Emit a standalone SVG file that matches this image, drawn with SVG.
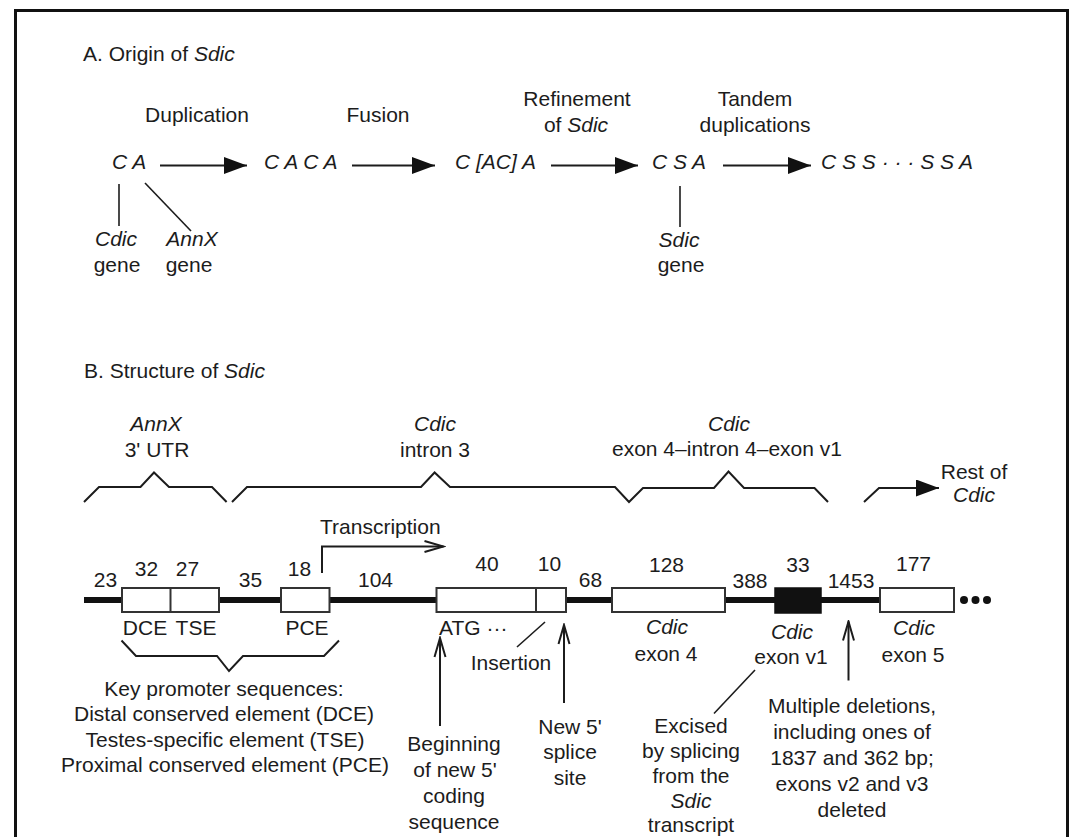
<svg xmlns="http://www.w3.org/2000/svg" width="1074" height="837" viewBox="0 0 1074 837">
  <style>
    text { font-family: "Liberation Sans", Arial, sans-serif; font-size: 21px; fill: #1c1c1c; }
    .it { font-style: italic; }
    .mid { text-anchor: middle; }
    .ln { stroke: #1c1c1c; stroke-width: 2; fill: none; }
    .thin { stroke: #1c1c1c; stroke-width: 1.6; fill: none; }
    .box { fill: #ffffff; stroke: #333333; stroke-width: 2; }
    .dna { stroke: #111111; stroke-width: 6; }
  </style>
  <defs>
    <marker id="solid" markerUnits="userSpaceOnUse" markerWidth="23" markerHeight="17" viewBox="0 0 23 17" refX="23" refY="8.5" orient="auto">
      <path d="M0,0 L23,8.5 L0,17 Z" fill="#111111"/>
    </marker>
    <marker id="open" markerUnits="userSpaceOnUse" markerWidth="22" markerHeight="14" viewBox="0 0 22 14" refX="20" refY="7" orient="auto">
      <path d="M1,1.5 L20,7 L1,12.5" fill="none" stroke="#1c1c1c" stroke-width="2"/>
    </marker>
  </defs>

  <rect width="1074" height="837" fill="#ffffff"/>
  <!-- frame (open at the bottom edge) -->
  <path d="M15.5,845 L15.5,10.5 L1067.5,10.5 L1067.5,845" fill="none" stroke="#111111" stroke-width="3"/>

  <!-- Panel A -->
  <g id="title-a"><text x="83" y="61">A. Origin of <tspan class="it">Sdic</tspan></text></g>

  <g id="step-duplication"><text class="mid" x="197" y="122">Duplication</text></g>
  <g id="step-fusion"><text class="mid" x="378" y="122">Fusion</text></g>
  <g id="step-refinement">
    <text class="mid" x="577" y="106">Refinement</text>
    <text class="mid" x="576" y="132">of <tspan class="it">Sdic</tspan></text>
  </g>
  <g id="step-tandem">
    <text class="mid" x="755" y="106">Tandem</text>
    <text class="mid" x="755" y="132">duplications</text>
  </g>

  <g id="state-ca"><text class="it" x="112" y="169">C A</text></g>
  <g id="state-caca"><text class="it" x="264" y="169">C A C A</text></g>
  <g id="state-cacta"><text class="it" x="455" y="169">C [AC] A</text></g>
  <g id="state-csa"><text class="it" x="652" y="169">C S A</text></g>
  <g id="state-cssa"><text class="it" x="821" y="169">C S S · · · S S A</text></g>

  <g id="label-cdic-gene">
    <text class="mid it" x="116" y="246">Cdic</text>
    <text class="mid" x="117" y="272">gene</text>
  </g>
  <g id="label-annx-gene">
    <text class="mid it" x="192" y="246">AnnX</text>
    <text class="mid" x="189" y="272">gene</text>
  </g>
  <g id="label-sdic-gene">
    <text class="mid it" x="679" y="247">Sdic</text>
    <text class="mid" x="681" y="272">gene</text>
  </g>

  <!-- Panel B -->
  <g id="title-b"><text x="84" y="378">B. Structure of <tspan class="it">Sdic</tspan></text></g>

  <g id="region-annx">
    <text class="mid it" x="156" y="431">AnnX</text>
    <text class="mid" x="157" y="457">3' UTR</text>
  </g>
  <g id="region-intron3">
    <text class="mid it" x="435" y="431">Cdic</text>
    <text class="mid" x="435" y="457">intron 3</text>
  </g>
  <g id="region-exon4-v1">
    <text class="mid it" x="729" y="431">Cdic</text>
    <text class="mid" x="727" y="456">exon 4–intron 4–exon v1</text>
  </g>
  <g id="region-rest">
    <text class="mid" x="974" y="479">Rest of</text>
    <text class="mid it" x="974" y="502">Cdic</text>
  </g>

  <g id="transcription"><text x="320" y="534">Transcription</text></g>

  <!-- gene map -->
  <g id="gene-map">
    <line class="dna" x1="84" y1="600" x2="880" y2="600"/>
    <circle cx="964" cy="600" r="4" fill="#111111"/>
    <circle cx="975.5" cy="600" r="4" fill="#111111"/>
    <circle cx="987" cy="600" r="4" fill="#111111"/>
  </g>
  <g id="box-dce-tse">
    <rect class="box" x="122" y="588" width="97" height="24"/>
    <line x1="170.5" y1="588" x2="170.5" y2="612" stroke="#333333" stroke-width="2"/>
    <text class="mid" x="145" y="635">DCE</text>
    <text class="mid" x="196" y="635">TSE</text>
  </g>
  <g id="box-pce">
    <rect class="box" x="281" y="588" width="48.5" height="24"/>
    <text class="mid" x="307" y="635">PCE</text>
  </g>
  <g id="box-atg">
    <rect class="box" x="436.5" y="588" width="129.5" height="24"/>
    <line x1="536" y1="588" x2="536" y2="612" stroke="#333333" stroke-width="2"/>
    <text x="439" y="635">ATG ···</text>
  </g>
  <g id="box-exon4">
    <rect class="box" x="612" y="588" width="113" height="24"/>
    <text class="mid it" x="667" y="634">Cdic</text>
    <text class="mid" x="666" y="661">exon 4</text>
  </g>
  <g id="box-exonv1">
    <rect x="775" y="588" width="46" height="25" fill="#111111" stroke="#111111" stroke-width="1.5"/>
    <text class="mid it" x="792" y="639">Cdic</text>
    <text class="mid" x="791" y="664">exon v1</text>
  </g>
  <g id="box-exon5">
    <rect class="box" x="880" y="588" width="74" height="24"/>
    <text class="mid it" x="914" y="635">Cdic</text>
    <text class="mid" x="913" y="662">exon 5</text>
  </g>

  <g id="lengths">
    <text class="mid" x="105.5" y="587">23</text>
    <text class="mid" x="146.5" y="576">32</text>
    <text class="mid" x="187.5" y="576">27</text>
    <text class="mid" x="250.5" y="587">35</text>
    <text class="mid" x="299.5" y="576">18</text>
    <text class="mid" x="375.5" y="587">104</text>
    <text class="mid" x="487" y="571">40</text>
    <text class="mid" x="549.5" y="571">10</text>
    <text class="mid" x="590.5" y="587">68</text>
    <text class="mid" x="666.5" y="572">128</text>
    <text class="mid" x="750" y="588">388</text>
    <text class="mid" x="798" y="572">33</text>
    <text class="mid" x="851" y="588">1453</text>
    <text class="mid" x="913.5" y="571">177</text>
  </g>

  <g id="note-promoters">
    <text class="mid" x="224" y="696">Key promoter sequences:</text>
    <text class="mid" x="224" y="721">Distal conserved element (DCE)</text>
    <text class="mid" x="225" y="747">Testes-specific element (TSE)</text>
    <text class="mid" x="225" y="772">Proximal conserved element (PCE)</text>
  </g>
  <g id="note-beginning">
    <text class="mid" x="454" y="751">Beginning</text>
    <text class="mid" x="455" y="777">of new 5'</text>
    <text class="mid" x="454" y="803">coding</text>
    <text class="mid" x="454" y="829">sequence</text>
  </g>
  <g id="note-insertion"><text class="mid" x="511" y="670">Insertion</text></g>
  <g id="note-splice">
    <text class="mid" x="570" y="734">New 5'</text>
    <text class="mid" x="570" y="759">splice</text>
    <text class="mid" x="570" y="785">site</text>
  </g>
  <g id="note-excised">
    <text class="mid" x="691" y="733">Excised</text>
    <text class="mid" x="691" y="758">by splicing</text>
    <text class="mid" x="691" y="783">from the</text>
    <text class="mid it" x="691" y="808">Sdic</text>
    <text class="mid" x="691" y="832">transcript</text>
  </g>
  <g id="note-deletions">
    <text class="mid" x="852" y="713">Multiple deletions,</text>
    <text class="mid" x="852" y="739">including ones of</text>
    <text class="mid" x="852" y="765">1837 and 362 bp;</text>
    <text class="mid" x="852" y="791">exons v2 and v3</text>
    <text class="mid" x="852" y="817">deleted</text>
  </g>

  <!-- connectors -->
  <g id="connectors">
    <line class="ln" x1="160" y1="165.5" x2="247" y2="165.5" marker-end="url(#solid)"/>
    <line class="ln" x1="352" y1="165.5" x2="435" y2="165.5" marker-end="url(#solid)"/>
    <line class="ln" x1="551" y1="165.5" x2="638" y2="165.5" marker-end="url(#solid)"/>
    <line class="ln" x1="723" y1="165.5" x2="811" y2="165.5" marker-end="url(#solid)"/>

    <line class="thin" x1="119" y1="184" x2="119" y2="226"/>
    <line class="thin" x1="145" y1="183" x2="191" y2="231"/>
    <line class="thin" x1="680" y1="186" x2="680" y2="227"/>

    <polyline class="ln" points="84,502 99,487 140.5,487 154,472.5 169,487 212,487 226.6,502"/>
    <polyline class="ln" points="232,502 247,487 421,487 434.6,472.5 450,487 615,487 629,502 643,488 714,488 728.5,471.5 744,488 814.5,488 828,502"/>
    <polyline class="ln" points="864,502 879,488 939,488" marker-end="url(#solid)"/>

    <polyline class="ln" points="322,573 322,546.5 443.5,546.5" marker-end="url(#open)"/>

    <polyline class="ln" points="121.5,640.5 136,656 217,656 229,671 243,656 324,656 339,640.5"/>

    <line class="ln" x1="440" y1="726" x2="440" y2="638" marker-end="url(#open)"/>
    <line class="thin" x1="545" y1="622" x2="517" y2="647"/>
    <line class="ln" x1="564" y1="703" x2="564" y2="625" marker-end="url(#open)"/>
    <line class="thin" x1="755" y1="670" x2="714" y2="713.5"/>
    <line class="ln" x1="848.5" y1="680.5" x2="848.5" y2="621.5" marker-end="url(#open)"/>
  </g>
</svg>
